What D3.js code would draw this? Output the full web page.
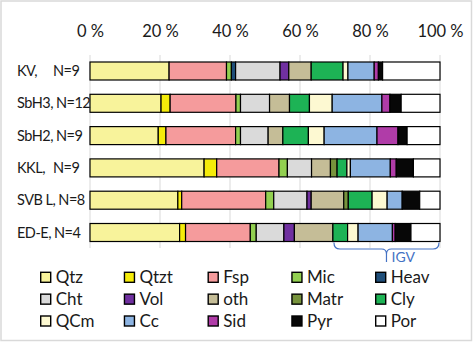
<!DOCTYPE html>
<html><head><meta charset="utf-8">
<script src="https://cdn.jsdelivr.net/npm/d3@7"></script>
<style>html,body{margin:0;padding:0;background:#fff;} svg{display:block;}</style>
</head><body><svg id="c" width="473" height="343"></svg>
<script>
// ---- data ----
const categories = ["KV,", "SbH3,", "SbH2,", "KKL,", "SVB L,", "ED-E,"];
const counts     = ["N=9", "N=12", "N=9", "N=9", "N=8", "N=4"];
const seriesNames = ["Qtz","Qtzt","Fsp","Mic","Heav","Cht","Vol","oth","Matr","Cly","QCm","Cc","Sid","Pyr","Por"];
const Qtz  = [22.6, 20.3, 19.5, 32.6, 25.1, 25.6];
const Qtzt = [0, 2.6, 2.2, 3.6, 1.1, 1.7];
const Fsp  = [16.4, 18.8, 19.9, 17.8, 24.0, 18.5];
const Mic  = [1.4, 1.3, 1.4, 2.4, 2.3, 1.7];
const Heav = [1.2, 0, 0, 0, 0, 0];
const Cht  = [12.7, 8.3, 7.9, 6.9, 9.5, 7.9];
const Vol  = [2.5, 0, 0, 0, 1.2, 3.0];
const oth  = [6.4, 5.7, 4.2, 5.4, 9.3, 11.0];
const Matr = [0, 0, 0, 1.9, 1.3, 0];
const Cly  = [9.1, 5.7, 7.3, 2.8, 6.8, 4.2];
const QCm  = [1.4, 6.5, 4.5, 1.0, 4.3, 3.0];
const Cc   = [7.5, 14.2, 15.1, 11.4, 4.3, 9.8];
const Sid  = [1.2, 2.3, 6.0, 1.7, 0, 0.8];
const Pyr  = [1.2, 3.2, 2.6, 4.9, 5.0, 4.5];
const Por  = [16.4, 11.1, 9.4, 7.6, 5.8, 8.3];
const tickValues = [0, 0.2, 0.4, 0.6, 0.8, 1.0];
const tickLabels = ["0 %", "20 %", "40 %", "60 %", "80 %", "100 %"];
const annotation = "IGV";
const annotationRange = [0.697, 1.0];

const seriesValues = {Qtz,Qtzt,Fsp,Mic,Heav,Cht,Vol,oth,Matr,Cly,QCm,Cc,Sid,Pyr,Por};
const colors = ["#f8f39b","#f5ec0a","#f59b9c","#92d050","#1f4e79","#dadada","#7030a0","#c5bd97","#77933c","#1db355","#fdf9d2","#8db4e2","#b03ca8","#070707","#ffffff"];

// ---- build ----
const rows = categories.map((c, i) => {
  const r = {cat: c};
  seriesNames.forEach(s => r[s] = seriesValues[s][i]);
  return r;
});
const stacked = d3.stack().keys(seriesNames).offset(d3.stackOffsetExpand)(rows);

const svg = d3.select("#c");
const font = "Lato, 'Liberation Sans', sans-serif";
const ink = "#1a1a1a";
svg.append("rect").attr("x",1).attr("y",1).attr("width",470.5).attr("height",339.5)
  .attr("fill","#fff").attr("stroke","#d9d9d9").attr("stroke-width",1.5);

const x = d3.scaleLinear().domain([0,1]).range([90,440]);
const y = d3.scalePoint().domain(categories).range([71, 232.5]);
const barH = 18;
const color = d3.scaleOrdinal().domain(seriesNames).range(colors);

// gridlines
svg.append("g").selectAll("line").data(tickValues).join("line")
  .attr("x1", d => x(d)).attr("x2", d => x(d))
  .attr("y1", 55).attr("y2", 248)
  .attr("stroke", "#d9d9d9").attr("stroke-width", 1);

// top axis
const axis = svg.append("g").attr("transform","translate(0,40)")
  .call(d3.axisTop(x).tickValues(tickValues).tickSize(0).tickPadding(3)
    .tickFormat((d,i) => tickLabels[i]));
axis.select(".domain").remove();
axis.selectAll("text").attr("font-family", font).attr("font-size", 16.5).attr("fill", ink);

// bars
svg.append("g").selectAll("g").data(stacked).join("g")
  .attr("fill", d => color(d.key))
  .selectAll("rect").data(d => d.filter(p => p[1] - p[0] > 1e-6)).join("rect")
  .attr("x", d => x(d[0])).attr("width", d => x(d[1]) - x(d[0]))
  .attr("y", d => y(d.data.cat) - barH/2).attr("height", barH)
  .attr("stroke", "#000").attr("stroke-width", 1.2);

// category labels
const lab = svg.append("g").selectAll("g").data(categories).join("g");
const nameT = lab.append("text").attr("x", 17).attr("y", d => y(d) + 5).text(d => d)
  .attr("font-family", font).attr("font-size", 14.5).attr("letter-spacing", -0.5).attr("fill", ink);
lab.append("text").attr("y", d => y(d) + 5).text((d,i) => counts[i])
  .attr("x", function(d, i) {
    const w = nameT.nodes()[i].getComputedTextLength();
    return Math.max(53, 17 + w + 3);
  })
  .attr("font-family", font).attr("font-size", 14.5).attr("letter-spacing", -0.5).attr("fill", ink);

// IGV brace
const bx0 = x(annotationRange[0]), bx1 = x(annotationRange[1]) - 1, bm = (bx0 + bx1) / 2;
const yTop = y(categories[categories.length-1]) + barH/2 + 1, yH = 249, yTip = 262;
svg.append("path")
  .attr("d", `M${bx0},${yTop} Q${bx0},${yH} ${bx0+6},${yH} L${bm-5},${yH} Q${bm},${yH} ${bm},${yH+5} L${bm},${yTip} M${bm},${yH+5} Q${bm},${yH} ${bm+5},${yH} L${bx1-6},${yH} Q${bx1},${yH} ${bx1},${yTop}`)
  .attr("fill","none").attr("stroke","#4472c4").attr("stroke-width",1.2);
svg.append("text").attr("x", bm + 5).attr("y", yTip).text(annotation)
  .attr("font-family", font).attr("font-size", 14).attr("fill","#4472c4");

// legend
const lx = d3.scalePoint().domain(d3.range(5)).range([40.7, 375.7]);
const ly = d3.scalePoint().domain(d3.range(3)).range([277.3, 321]);
const leg = svg.append("g").selectAll("g").data(seriesNames).join("g")
  .attr("transform", (d,i) => `translate(${lx(i%5)},${ly(Math.floor(i/5))})`);
leg.append("rect").attr("x",0).attr("y",-5).attr("width",10).attr("height",10)
  .attr("fill", d => color(d)).attr("stroke","#000").attr("stroke-width",1.4);
leg.append("text").attr("x",15).attr("y",6).text(d => d)
  .attr("font-family", font).attr("font-size", 17).attr("fill", ink);
</script></body></html>
